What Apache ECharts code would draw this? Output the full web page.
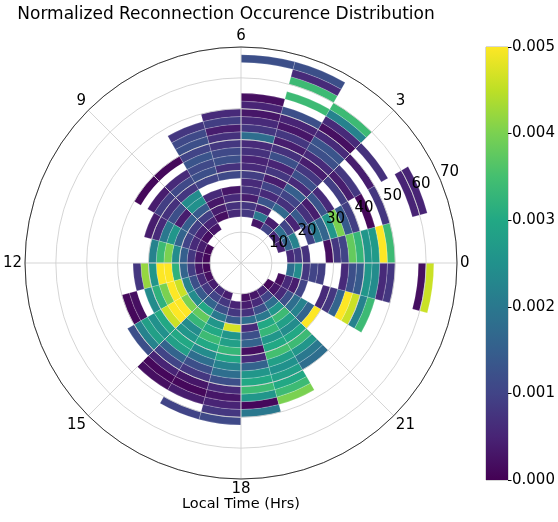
<!DOCTYPE html>
<html><head><meta charset="utf-8">
<script src="https://cdn.jsdelivr.net/npm/echarts@6/dist/echarts.min.js"></script>
<style>html,body{margin:0;padding:0;background:#fff}#c{width:558px;height:522px}</style>
</head><body><div id="c"></div>
<script>
const _ = null;
// local-time hour bins (0..23), radial bins of 2.5 (index k -> [2.5k, 2.5k+2.5])
const radialBinWidth = 2.5;
const angleTickHours = [0, 3, 6, 9, 12, 15, 18, 21];
const radiusTicks = [10, 20, 30, 40, 50, 60, 70];
const colorbarTicks = [0, 0.001, 0.002, 0.003, 0.004, 0.005];

const h00 = [_,_,_,_,_,_,.0006,.0008,.0007,_,_,.0002,.0008,.0010,.0038,.0033,.0026,.0027,.0050,.0034];
const h01 = [_,_,_,_,_,.0005,.0016,.0022,_,.0010,.0020,.0016,.0026,.0040,.0014,.0009,_,.0001,_,.0008,_,_,_,.0005,.0005];
const h02 = [_,_,_,_,_,.0006,.0018,.0010,.0005,.0014,.0007,.0004,.0013,.0006,_,.0009,.0004,.0008,_,.0004,_,.0007];
const h03 = [_,_,_,_,_,.0010,.0004,_,.0017,.0007,.0010,.0015,.0006,.0012,.0008,.0004,.0006,.0012,.0013,.0006,.0002,.0006,.0022,.0034];
const h04 = [_,_,_,_,_,.0003,.0020,.0005,.0013,.0006,.0010,.0004,.0008,.0005,.0012,.0007,.0004,.0008,.0003,.0005,.0012,_,.0034,_,.0034,.0006,.0012];
const h05 = [_,_,_,_,_,_,.0008,.0008,.0004,.0007,.0006,.0009,.0006,.0005,.0007,.0006,.0018,.0008,.0006,.0003,.0005,.0002,_,_,_,_,.0012];
const h06 = [_,_,_,_,_,_,.0006,.0007,.0006,.0003,_,.0011,.0007,.0012,.0011,.0008,.0007,.0004,.0009,.0006];
const h07 = [_,_,_,_,_,_,.0002,.0004,.0003,.0006,_,.0010,.0012,.0011,.0013,.0010,.0012,.0011,.0008];
const h08 = [_,_,_,_,_,.0003,.0005,.0009,.0014,.0025,.0024,.0008,.0011,.0006,_,.0001];
const h09 = [_,_,_,_,_,.0002,.0005,.0009,.0015,.0004,.0012,.0007,.0009,.0004,_,.0001];
const h10 = [_,_,_,_,.0001,.0004,.0006,.0010,.0016,.0026,.0020,.0006,.0004];
const h11 = [_,_,_,_,.0001,.0003,.0008,.0015,.0024,.0040,.0034,.0022];
const h12 = [_,_,_,_,.0001,.0003,.0009,.0016,.0032,.0050,.0050,.0026,.0042,.0008];
const h13 = [_,_,_,_,.0002,.0006,.0012,.0022,.0046,.0050,.0040,.0032,.0024,_,.0002,.0001];
const h14 = [_,_,_,_,.0004,.0008,.0014,.0024,.0040,.0050,.0050,.0046,.0030,.0025,.0028,.0022,.0012];
const h15 = [_,_,_,_,.0006,.0010,.0016,.0030,.0038,.0033,.0024,.0026,.0030,.0028,.0016,.0010,.0005,.0001,.0002];
const h16 = [_,_,_,_,.0004,.0008,.0012,.0020,.0026,.0030,.0034,.0030,.0024,.0018,.0012,.0008,.0003,.0001,.0004,_,.0010];
const h17 = [_,_,_,_,_,.0005,.0008,.0014,.0047,.0026,.0028,.0033,.0030,.0022,.0018,.0012,.0006,.0003,.0005,.0008,.0011];
const h18 = [_,_,_,_,.0002,.0004,.0007,.0018,.0006,.0012,.0016,.0002,.0006,.0016,.0026,.0030,.0034,.0026,.0001,.0020];
const h19 = [_,_,_,_,.0003,.0006,.0012,.0020,.0030,.0033,.0026,.0030,.0035,.0028,.0025,.0028,.0030,.0034,.0040];
const h20 = [_,_,_,_,.0005,.0010,.0018,.0026,.0034,.0028,.0024,.0030,.0034,.0026,.0020,.0018];
const h21 = [_,_,_,_,.0001,.0003,.0006,.0012,.0018,.0022,.0016,.0050];
const h22 = [_,_,_,_,_,.0002,.0006,.0004,.0010,_,_,.0006,.0008,.0016,.0050,.0046,.0022,.0034];
const h23 = [_,_,_,_,_,_,.0018,.0024,.0008,.0010,.0009,_,_,.0006,.0012,.0014,.0026,.0024,.0006,.0008,_,_,_,.0002,.0046];

const hourRows = [h00,h01,h02,h03,h04,h05,h06,h07,h08,h09,h10,h11,h12,h13,h14,h15,h16,h17,h18,h19,h20,h21,h22,h23];
const cells = [];
hourRows.forEach((row, h) => row.forEach((v, k) => { if (v !== null && v !== undefined) cells.push([h, k, v]); }));

const viridis = ['#440154','#482475','#414487','#355f8d','#2a788e','#21918c','#22a884','#44bf70','#7ad151','#bddf26','#fde725'];
const FONT = 'DejaVu Sans';

const chart = echarts.init(document.getElementById('c'), null, {renderer: 'canvas'});
chart.setOption({
  animation: false,
  backgroundColor: '#fff',
  title: [
    {text: 'Normalized Reconnection Occurence Distribution', left: 226, top: 6, textAlign: 'center', padding: 0,
     textStyle: {fontFamily: FONT, fontSize: 17, fontWeight: 'normal', color: '#000'}},
    {text: 'Local Time (Hrs)', left: 241, top: 497, textAlign: 'center', padding: 0,
     textStyle: {fontFamily: FONT, fontSize: 14.5, fontWeight: 'normal', color: '#000'}}
  ],
  polar: [
    {center: [241, 263], radius: 216},
    {center: [241, 263], radius: [11.4, 227.4]}
  ],
  angleAxis: [
    {polarIndex: 0, type: 'value', min: 0, max: 24, interval: 3, startAngle: 0, clockwise: false, z: 10,
     axisLine: {show: true, lineStyle: {color: '#222', width: 0.9}},
     axisTick: {show: false},
     axisLabel: {show: true, margin: 3, fontFamily: FONT, fontSize: 15, color: '#000',
       formatter: v => (angleTickHours.indexOf(v) >= 0 ? String(v) : '')},
     splitLine: {show: true, lineStyle: {color: '#d0d0d0', width: 0.9}}},
    {polarIndex: 1, type: 'value', min: 0, max: 360, startAngle: 22.5, show: false}
  ],
  radiusAxis: [
    {polarIndex: 0, type: 'value', min: 0, max: 70, interval: 10, z: 10,
     axisLine: {show: false}, axisTick: {show: false}, axisLabel: {show: false},
     splitLine: {show: true, lineStyle: {color: '#d0d0d0', width: 0.9}}},
    {polarIndex: 1, type: 'value', min: 0, max: 70, interval: 10, z: 20,
     axisLine: {show: false}, axisTick: {show: false}, splitLine: {show: false},
     axisLabel: {show: true, showMinLabel: false, margin: 4, align: 'center', verticalAlign: 'middle',
       fontFamily: FONT, fontSize: 15, color: '#000',
       formatter: v => (radiusTicks.indexOf(v) >= 0 ? String(v) : '')}}
  ],
  grid: {left: 486, top: 47, width: 22, height: 433, show: true, borderColor: '#999', borderWidth: 0.8, containLabel: false},
  xAxis: {type: 'category', data: ['cb'], show: false},
  yAxis: {type: 'value', position: 'right', min: 0, max: 0.005, interval: 0.001,
    axisLine: {show: false}, splitLine: {show: false},
    axisTick: {show: true, length: 3.5, lineStyle: {color: '#000'}},
    axisLabel: {margin: 4, fontFamily: FONT, fontSize: 15, color: '#000', formatter: v => v.toFixed(3)}},
  visualMap: {show: false, type: 'continuous', min: 0, max: 0.005, dimension: 2, seriesIndex: 0,
    inRange: {color: viridis}},
  series: [
    {type: 'custom', coordinateSystem: 'polar', polarIndex: 0, data: cells, z: 2,
     renderItem: function (params, api) {
       const h = api.value(0), k = api.value(1);
       const cs = params.coordSys;
       const cx = cs.cx, cy = cs.cy;
       const rIn = k * radialBinWidth, rOut = (k + 1) * radialBinWidth;
       const pA = api.coord([rOut, h]);
       const pB = api.coord([rOut, h + 1]);
       const pI = api.coord([rIn, h]);
       const ro = Math.hypot(pA[0] - cx, pA[1] - cy);
       const ri = Math.hypot(pI[0] - cx, pI[1] - cy);
       const a0 = Math.atan2(pA[1] - cy, pA[0] - cx);
       const a1 = Math.atan2(pB[1] - cy, pB[0] - cx);
       const TWO = Math.PI * 2;
       const d = (((a0 - a1) % TWO) + TWO) % TWO;
       return {type: 'sector',
         shape: {cx: cx, cy: cy, r0: ri, r: ro, startAngle: a0, endAngle: a0 - d, clockwise: false},
         style: {fill: api.visual('color'), stroke: 'rgba(255,255,255,0.35)', lineWidth: 0.5}};
     }},
    {type: 'bar', xAxisIndex: 0, yAxisIndex: 0, data: [colorbarTicks[colorbarTicks.length - 1]], barWidth: '100%', silent: true,
     itemStyle: {color: new echarts.graphic.LinearGradient(0, 1, 0, 0,
       viridis.map((c, i) => ({offset: i / (viridis.length - 1), color: c})))}}
  ]
});
</script></body></html>
